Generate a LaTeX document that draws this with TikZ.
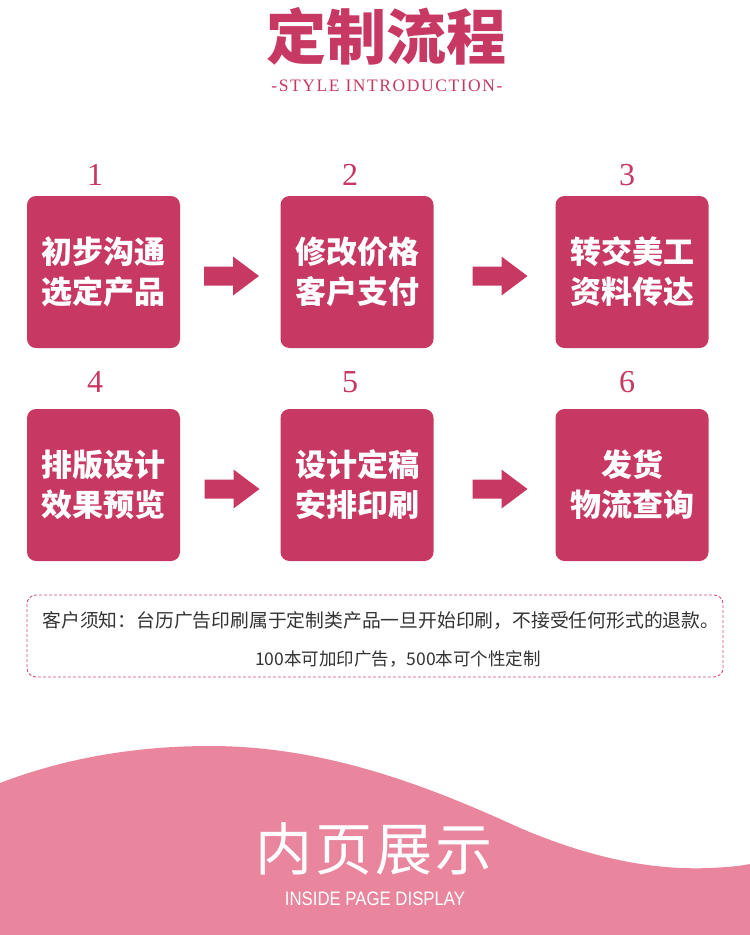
\documentclass[tikz,border=0pt]{standalone}
\usepackage{fontspec}
\newfontfamily\cjk{Noto Sans CJK SC}
\newfontfamily\serifsp[LetterSpace=9]{Liberation Serif}
\newfontfamily\numfont{Liberation Serif}
\newfontfamily\latsans{Liberation Sans}
\definecolor{rose}{HTML}{C73862}
\definecolor{wavepink}{HTML}{E9869E}
\definecolor{dashpink}{HTML}{D4517B}
\definecolor{notegray}{HTML}{333333}
\tikzset{
  stepbox/.style={fill=rose, rounded corners=9pt, minimum width=153pt, minimum height=152pt, inner sep=0pt},
  steptext/.style={text=white, align=center, font=\cjk\bfseries\fontsize{31}{40}\selectfont},
  stepnum/.style={text=rose, font=\numfont\fontsize{32}{32}\selectfont},
  barrow/.pic={\fill[rose] (-27.5,-9.5) -- (1.5,-9.5) -- (1.5,-19.5) -- (27.5,0) -- (1.5,19.5) -- (1.5,9.5) -- (-27.5,9.5) -- cycle;}
}
\begin{document}
\begin{tikzpicture}[x=1pt,y=-1pt]
\useasboundingbox (0,0) rectangle (750,935);
\fill[white] (0,0) rectangle (750,935);
% title
\node[text=rose, font=\cjk\bfseries\fontsize{60}{60}\selectfont] (title) at (386,36) {定制流程};
\node[text=rose, font=\serifsp\fontsize{17.5}{17.5}\selectfont] (sub) at (387,86) {-STYLE INTRODUCTION-};
% boxes
\node[stepbox] (b1) at (103.5,272) {};
\node[stepbox] (b2) at (357,272) {};
\node[stepbox] (b3) at (632,272) {};
\node[stepbox] (b4) at (103.5,485) {};
\node[stepbox] (b5) at (357,485) {};
\node[stepbox] (b6) at (632,485) {};
\node[steptext] (t1) at (b1) {初步沟通\\选定产品};
\node[steptext] (t2) at (b2) {修改价格\\客户支付};
\node[steptext] (t3) at (b3) {转交美工\\资料传达};
\node[steptext] (t4) at (b4) {排版设计\\效果预览};
\node[steptext] (t5) at (b5) {设计定稿\\安排印刷};
\node[steptext] (t6) at (b6) {发货\\物流查询};
% numbers
\node[stepnum] (n1) at (95,175) {1};
\node[stepnum] (n2) at (350,175) {2};
\node[stepnum] (n3) at (627,175) {3};
\node[stepnum] (n4) at (95,382) {4};
\node[stepnum] (n5) at (350,382) {5};
\node[stepnum] (n6) at (627,382) {6};
% arrows
\pic at (231.5,276) {barrow};
\pic at (500,276) {barrow};
\pic at (232,489) {barrow};
\pic at (500,489) {barrow};
% note box
\draw[dashpink, line width=0.9pt, dash pattern=on 3pt off 2pt, rounded corners=9pt] (27,595) rectangle (723,677);
\node[text=notegray, font=\cjk\fontsize{18.8}{18.8}\selectfont] (note1) at (381,621) {客户须知：台历广告印刷属于定制类产品一旦开始印刷，不接受任何形式的退款。};
\node[text=notegray, font=\cjk\fontsize{17.5}{17.5}\selectfont] (note2) at (398,659) {100本可加印广告，500本可个性定制};
% wave
\fill[wavepink] (0,783) .. controls (60,760) and (130,746) .. (210,746)
  .. controls (320,746) and (420,782) .. (520,828)
  .. controls (600,862) and (660,870) .. (710,868)
  .. controls (730,867) and (740,866) .. (750,864) -- (750,935) -- (0,935) -- cycle;
\node[text=white, font=\cjk\fontsize{57}{57}\selectfont] (disp) at (374,849) {内\hspace{3pt}页\hspace{3pt}展\hspace{3pt}示};
\node[text=white, font=\latsans\fontsize{19.5}{19.5}\selectfont, xscale=0.86] (dispen) at (375,899) {INSIDE PAGE DISPLAY};
\end{tikzpicture}
\end{document}
